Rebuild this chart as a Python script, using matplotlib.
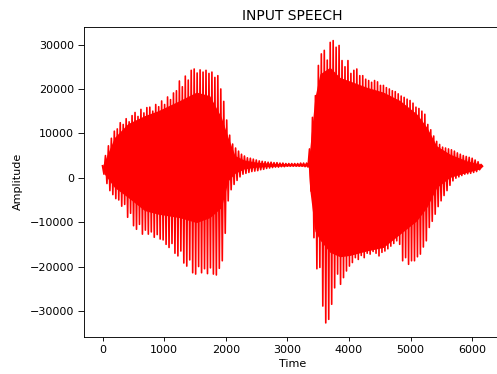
import matplotlib
matplotlib.use("Agg")
import matplotlib.pyplot as plt
import numpy as np

# peak values per pitch cycle
# upper peak at the start of each cycle, lower peak half a cycle later
upper = [2700, 5000, 7200, 8900, 10500, 11000, 12400, 12000, 13300, 12600,
         14000, 14700, 13800, 15400, 14600, 15800, 15900, 15000, 16500, 16000,
         17300, 16500, 18200, 17600, 19100, 19600, 21800, 20500, 22900, 22000,
         24200, 24500, 23600, 24300, 23800, 24200, 23500, 23800, 22600, 23000,
         20000, 17200, 13000, 9600, 7600, 6700, 6000, 5300, 4900, 4500,
         4400, 4200, 4000, 3800, 3700, 3600, 3500, 3500, 3400, 3400,
         3300, 3300, 3200, 3200, 3200, 3200, 3200, 3300, 3300, 3300,
         6500, 13600, 18500, 25300, 27900, 28700, 26500, 30500, 30900, 29400,
         29800, 26400, 25000, 26400, 23500, 24200, 24500, 23000, 23000, 22200,
         21900, 21500, 21900, 21600, 20800, 20800, 20300, 20000, 19600, 19400,
         18900, 18400, 18100, 17700, 17400, 16800, 15900, 15600, 15000, 14300,
         12000, 10800, 9400, 8200, 7500, 6900, 6700, 6500, 6300, 6000,
         5600, 5300, 5000, 4800, 4600, 4400, 4000, 3600, 3000]

lower = [800, -1300, -2900, -3800, -4700, -5000, -6400, -6000, -8900, -8000,
         -10800, -11600, -10500, -12700, -11800, -12700, -12200, -13400, -12800, -13800,
         -14000, -15000, -15700, -14800, -17000, -17600, -16500, -19200, -19900, -18500,
         -21400, -21700, -20000, -21400, -20500, -21600, -20300, -21700, -21900, -20400,
         -18700, -12500, -5200, -2700, -1500, -600, 200, 800, 1000, 1200,
         1400, 1500, 1600, 1800, 1900, 2100, 2200, 2300, 2400, 2400,
         2500, 2500, 2600, 2600, 2600, 2600, 2600, 2600, 2500, 2400,
         -3000, -13500, -20500, -20200, -28900, -32700, -31900, -28500, -24800, -21700,
         -24000, -22500, -21000, -19900, -19100, -18000, -18400, -17500, -18000, -17000,
         -17200, -16600, -17000, -17600, -16800, -16500, -16000, -15400, -14800, -14200,
         -15000, -18700, -18000, -19500, -18700, -18700, -17800, -17200, -15600, -14200,
         -11200, -9800, -8200, -6500, -5200, -4000, -2900, -1700, -700, -100,
         200, 500, 800, 900, 1000, 1200, 1400, 1800, 2600]

half_cycle = 24  # samples between an upper and a lower peak

# the dense inner part of the waveform (looks solid in the plot)
core_time = [0, 33, 195, 411, 683, 900, 1252, 1524, 1740, 1930, 2038, 2150,
             2300, 2500, 2800, 3100, 3340, 3366, 3447, 3528, 3691, 3854,
             4016, 4287, 4558, 4829, 5100, 5263, 5425, 5642, 5913, 6130, 6168]
core_hi = [2700, 3800, 9100, 12200, 14000, 15100, 17400, 19300, 18500, 13600, 9100, 5000,
           4000, 3500, 3200, 3100, 3100, 6800, 18100, 23400, 24900, 22600,
           21800, 20400, 19300, 17400, 14400, 11400, 7200, 5300, 3800, 3100, 2800]
core_lo = [2700, 800, -2200, -4400, -7400, -8200, -9000, -10100, -9000, -6700, -700, 1000,
           2000, 2400, 2600, 2700, 2600, -2900, -12000, -14000, -16800, -17800,
           -17500, -16500, -15700, -12700, -9700, -6700, -2200, 100, 1200, 2000, 2600]

# interleave the peaks into one signal
amp = np.empty(2 * len(upper))
amp[0::2] = upper
amp[1::2] = lower
time = np.arange(len(amp)) * half_cycle

fig = plt.figure(figsize=(497 / 80, 374 / 80), dpi=80)
ax = fig.add_axes([83.5 / 497, 37 / 374, 418 / 497, 310.5 / 374])

ax.fill_between(core_time, core_lo, core_hi, color="red", lw=0)
ax.plot(time, amp, color="red")

ax.set_title("INPUT SPEECH", fontsize=12.5)
ax.set_xlabel("Time")
ax.set_ylabel("Amplitude")
ax.yaxis.set_label_coords(-0.144, 0.5)
ax.tick_params(axis="y", length=5)

plt.savefig("out.png", dpi=80)
